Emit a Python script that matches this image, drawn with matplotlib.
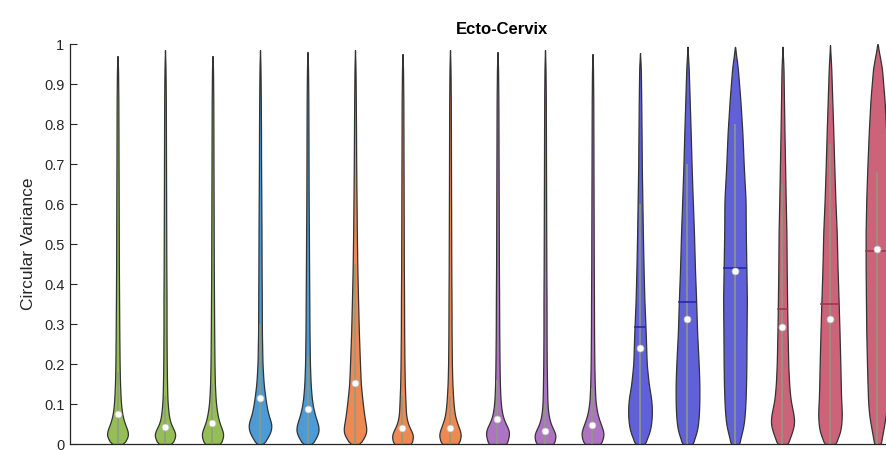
import numpy as np
import matplotlib
matplotlib.use("Agg")
import matplotlib.pyplot as plt

plt.rcParams['font.family'] = ['Liberation Sans', 'DejaVu Sans']

# ---- data -------------------------------------------------------------
# density profile sampled at these circular-variance levels (arbitrary units)
levels = [0, 0.02, 0.035, 0.05, 0.07, 0.09, 0.11, 0.15, 0.2, 0.28,
          0.36, 0.44, 0.53, 0.61, 0.69, 0.78, 0.86, 0.94]

tail = [1.5, 1.3, 1.2, 1.1, 1.0, 0.9, 0.8, 0.5]
density = [
    [5, 11.3, 9.5, 7, 4.8, 3.7, 3.1, 2.4, 2.0, 1.7] + tail,
    [6, 11.7, 9, 5.5, 3.8, 3.0, 2.4, 2.0, 1.7, 1.5] + tail,
    [7.5, 12, 10, 7.3, 5.3, 4.0, 3.2, 2.4, 2.0, 1.7] + tail,
    [3, 9, 11.5, 12, 8.8, 7, 5.7, 3.7, 2.5, 1.9, 1.8, 1.6, 1.5, 1.3, 1.1, 1.0, 0.8, 0.5],
    [4, 9.5, 11.3, 10, 7.3, 5.5, 4.2, 3.0, 2.3, 1.9, 1.7, 1.5, 1.3, 1.1, 1.0, 0.9, 0.8, 0.5],
    [4, 10.5, 11.7, 10.5, 9.2, 8.2, 7.3, 5.7, 4.9, 3.8, 3.0, 2.3, 1.8, 1.5, 1.2, 1.0, 0.8, 0.5],
    [8, 11.5, 8, 5.2, 3.5, 3.1, 2.8, 2.2, 1.9, 1.6] + tail,
    [8, 12, 10, 7.5, 5, 4, 3.3, 2.4, 1.9, 1.6] + tail,
    [8, 11, 11, 7.5, 4.7, 3.5, 2.8, 2.2, 1.9, 1.6] + tail,
    [8, 11.7, 8.5, 5.5, 3.6, 2.7, 2.3, 2.0, 1.7, 1.5] + tail,
    [8, 12.3, 11, 8.5, 5.6, 4, 3.0, 2.3, 1.9, 1.6] + tail,
    [4.5, 8, 10, 11, 11.7, 11.7, 11.2, 8.6, 6.6, 5.6, 4.3, 3.5, 2.8, 2.3, 1.8, 1.5, 1.2, 0.8],
    [5, 8, 9.8, 10.7, 11.4, 11.8, 12, 12, 11.3, 9.7, 8.7, 7.5, 6.5, 5.3, 4.2, 3.2, 2.2, 1.2],
    [4, 6, 7.5, 8.7, 9.6, 10.1, 10.5, 11, 11.3, 11.5, 11.8, 11.3, 10.7, 10.5, 8.8, 7.3, 5.3, 2.8],
    [5, 8.5, 10.5, 12.2, 11.7, 10, 8.3, 6.8, 5.9, 5.2, 4.7, 4.3, 4.0, 3.3, 2.7, 2.0, 1.5, 1.0],
    [5, 8.5, 10.3, 11, 11.5, 11.3, 10.8, 10.4, 10, 9.2, 8.3, 7.3, 6.5, 5.2, 4.2, 3.2, 2.2, 1.2],
    [3, 4.5, 5.5, 6.5, 7.8, 8.5, 9, 9.5, 10, 10.7, 11, 11.3, 11.3, 10.7, 9.7, 8.3, 6.7, 4.2],
]

max_values = [0.97, 0.985, 0.97, 0.985, 0.98, 0.985, 0.975, 0.985, 0.98,
              0.985, 0.975, 0.977, 0.993, 0.993, 0.993, 0.997, 1.0]
medians = [0.075, 0.043, 0.053, 0.115, 0.088, 0.153, 0.040, 0.040, 0.063,
           0.033, 0.048, 0.241, 0.312, 0.433, 0.292, 0.312, 0.488]
means = [np.nan] * 11 + [0.293, 0.354, 0.441, 0.338, 0.350, 0.483]
whisker_hi = [0.18, 0.12, 0.15, 0.30, 0.22, 0.45, 0.12, 0.12, 0.16, 0.10,
              0.14, 0.60, 0.70, 0.80, 0.65, 0.75, 0.68]

group_colors = ['#95BE57', '#4C9BD6', '#EE8954', '#AE74C3', '#6060D8', '#CC6379']
group_of = [0, 0, 0, 1, 1, 2, 2, 2, 3, 3, 3, 4, 4, 4, 5, 5, 5]
mean_colors = ['#5A7E2A', '#1F5E92', '#B5502A', '#6E3C80', '#2828B0', '#A83350']

# ---- figure -----------------------------------------------------------
W, H = 886, 450
fig = plt.figure(figsize=(W / 100, H / 100), dpi=100)
ax = fig.add_axes([70 / W, 6 / H, 864.5 / W, 400 / H])

half_width = 0.25
axis_col = '#262626'

for i, prof in enumerate(density):
    pos = i + 1
    top = max_values[i]
    lv = np.array(levels + [top])
    dv = np.array(prof + [0.0], dtype=float)
    dv = dv / dv.max() * half_width
    y = np.linspace(0, top, 500)
    w = np.interp(y, lv, dv)
    # light smoothing of the outline
    k = np.exp(-0.5 * (np.arange(-12, 13) / 5.0) ** 2)
    k /= k.sum()
    wp = np.pad(w, 12, mode='edge')
    ws = np.convolve(wp, k, mode='valid')
    ws[-1] = 0.0
    ws[:3] = w[:3]
    fc = group_colors[group_of[i]]
    ax.fill_betweenx(y, pos - ws, pos + ws, facecolor=fc, edgecolor='#333333',
                     linewidth=0.9, zorder=2)
    # whisker / box
    ax.plot([pos, pos], [0, whisker_hi[i]], color='#8E9C7E', lw=1.1,
            solid_capstyle='butt', zorder=3)
    # mean line
    if not np.isnan(means[i]):
        mw = np.interp(means[i], y, ws)
        ax.plot([pos - mw, pos + mw], [means[i], means[i]],
                color=mean_colors[group_of[i]], lw=1.2, zorder=4)
    # median marker
    ax.plot(pos, medians[i], 'o', ms=5.0, mfc='white', mec='#BBBBBB',
            mew=0.5, zorder=5)

ax.set_xlim(0, 18.2)
ax.set_ylim(0, 1)
ax.set_yticks(np.arange(0, 1.01, 0.1))
ax.set_yticklabels(['0', '0.1', '0.2', '0.3', '0.4', '0.5', '0.6', '0.7',
                    '0.8', '0.9', '1'])
ax.set_xticks([])
ax.tick_params(axis='y', direction='in', length=5, width=0.8, colors=axis_col,
               labelsize=10.5, pad=4)
for s in ['top', 'right']:
    ax.spines[s].set_visible(False)
for s in ['left', 'bottom']:
    ax.spines[s].set_color(axis_col)
    ax.spines[s].set_linewidth(0.9)

ax.set_ylabel('Circular Variance', fontsize=12.5, color=axis_col, labelpad=6)
ax.set_title('Ecto-Cervix', fontsize=12, fontweight='bold', color='black', pad=7)

fig.savefig('out.png', dpi=100)
